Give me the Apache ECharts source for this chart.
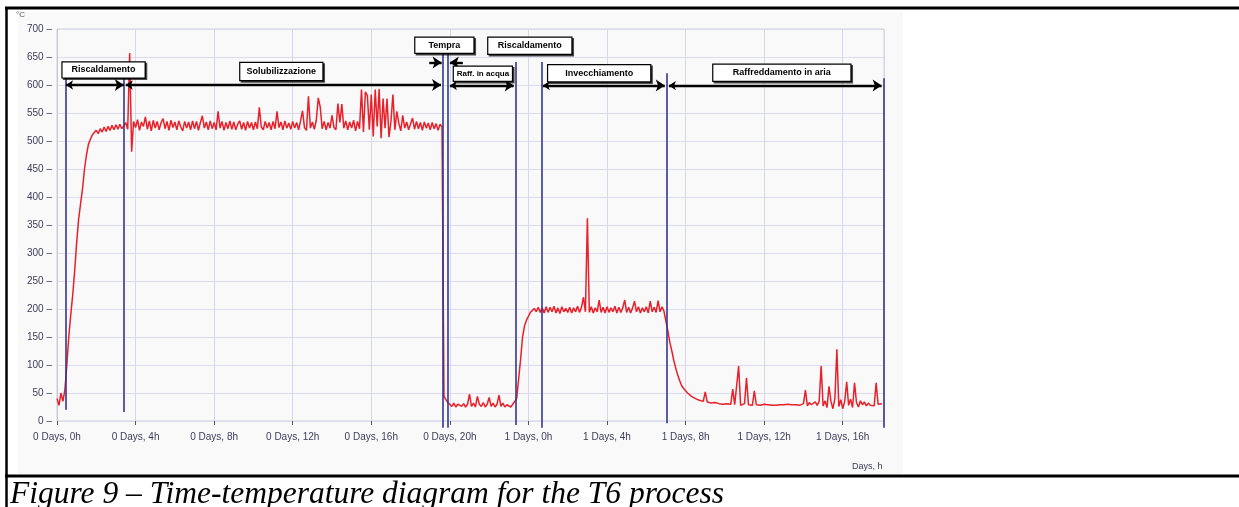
<!DOCTYPE html>
<html>
<head>
<meta charset="utf-8">
<title>Figure 9 - T6</title>
<script src="https://cdn.jsdelivr.net/npm/echarts@6/dist/echarts.min.js"></script>
<style>
    html, body { margin: 0; padding: 0; background: #fff; }
    #chart { width: 1239px; height: 507px; }
</style>
</head>
<body>
<div id="chart"></div>
<script>
// logger sampling step, hours
var STEP = 0.1;

// heating up to solution temperature
var heatStart = 0.0;
var heatTemp = [40, 28, 50, 35, 55, 100, 150, 190, 225, 268,
    318, 360, 388, 415, 450, 475, 494, 503, 511, 514,
    519, 513, 522, 516, 525, 517, 526, 519, 528, 520,
    529, 521, 530, 522, 527];

// solution treatment (solubilizzazione)
var soakStart = 3.5;
var soakTemp = [533, 521, 657, 481, 535,
    524, 538, 519, 534, 526, 543, 521, 536, 518, 537,
    523, 535, 520, 533, 540, 522, 535, 519, 537, 524,
    534, 520, 536, 525, 518, 535, 523, 534, 520, 536,
    522, 535, 519, 533, 545, 523, 534, 520, 536, 522,
    533, 520, 553, 523, 535, 519, 533, 522, 536, 521,
    534, 520, 530, 536, 521, 533, 519, 535, 523, 533,
    520, 534, 522, 560, 525, 520, 535, 523, 533, 520,
    535, 522, 553, 524, 534, 520, 536, 523, 532, 521,
    535, 523, 533, 520, 536, 554, 524, 519, 580, 523,
    534, 521, 537, 577, 561, 522, 535, 520, 533, 523,
    546, 524, 520, 567, 533, 566, 523, 536, 520, 534,
    523, 537, 518, 535, 522, 592, 516, 588, 581, 520,
    583, 508, 592, 526, 593, 505, 576, 523, 576, 507,
    535, 583, 520, 553, 532, 518, 546, 523, 534, 520,
    531, 541, 521, 535, 522, 533, 519, 534, 523, 532,
    520, 533, 522, 531, 519, 530, 525];

// water quench (tempra / raffreddamento in acqua)
var quenchStart = 19.7;
var quenchTemp = [44, 38, 33,
    31, 26, 32, 25, 30, 33, 26, 31, 25, 30,
    48, 26, 32, 25, 44, 30, 26, 33, 25, 30,
    42, 26, 32, 25, 30, 46, 26, 32, 25, 29,
    31, 25, 30, 29];

// second heating and ageing (invecchiamento)
var ageStart = 23.4;
var ageTemp = [40, 75, 110, 150, 170, 180,
    187, 194, 193, 201, 195, 203, 194, 202, 193, 204,
    194, 203, 195, 205, 193, 202, 192, 204, 195, 201,
    194, 203, 193, 202, 195, 205, 194, 203, 221, 195,
    362, 194, 204, 193, 202, 195, 216, 194, 203, 193,
    204, 194, 202, 195, 205, 193, 203, 194, 202, 216,
    194, 203, 193, 202, 214, 195, 204, 193, 202, 195,
    204, 193, 214, 195, 203, 194, 215, 195, 204, 196,
    199];

// air cooling (raffreddamento in aria)
var coolStart = 31.1;
var coolTemp = [160, 140, 125, 108, 94, 82, 72, 63, 58,
    54, 50, 47, 44, 43, 40, 39, 37, 36, 35,
    52, 34, 33, 32, 31, 33, 30, 31, 29, 30,
    29, 31, 28, 30, 57, 29, 30, 98, 28, 30,
    31, 77, 29, 30, 28, 54, 29, 30, 28, 29,
    30, 28, 29, 30, 28, 29, 28, 30, 29, 28,
    29, 28, 30, 28, 29, 28, 29, 30, 28, 29,
    31, 55, 27, 33, 29, 26, 34, 28, 35, 98,
    27, 36, 24, 62, 35, 22, 40, 128, 26, 38,
    22, 35, 70, 28, 39, 24, 68, 33, 25, 36,
    29, 34, 27, 32, 28, 31, 27, 68, 30, 28,
    31];

var tickLabels = ['0 Days, 0h', '0 Days, 4h', '0 Days, 8h', '0 Days, 12h', '0 Days, 16h', '0 Days, 20h',
    '1 Days, 0h', '1 Days, 4h', '1 Days, 8h', '1 Days, 12h', '1 Days, 16h'];

// phase boundaries (blue vertical lines): hour, top and bottom in degC
var phaseHour = [0.44, 3.41, 19.63, 19.9, 23.36, 24.68, 31.04, 42.09];
var phaseTop = [612, 612, 660, 660, 641, 641, 621, 612];
var phaseBottom = [20, 16, -12, -12, -7, -12, -4, -12];

// dimension arrows: from hour, to hour, level, double headed
var arrowFrom = [0.46, 3.5, 18.95, 20.66, 20.0, 24.73, 31.15];
var arrowTo = [3.40, 19.55, 19.58, 20.0, 23.25, 30.94, 41.98];
var arrowTemp = [600, 600, 640, 640, 599, 599, 599];
var arrowBoth = [true, true, false, false, true, true, true];

// phase labels
var phaseNames = ['Riscaldamento', 'Solubilizzazione', 'Tempra', 'Riscaldamento',
    'Raff. in acqua', 'Invecchiamento', 'Raffreddamento in aria'];
var labelHour = [2.37, 11.42, 19.72, 24.07, 21.68, 27.6, 36.9];
var labelTemp = [627, 624, 671, 670, 620, 621, 622];

var boxSize = [[82, 15], [82, 17], [58, 15], [83, 16], [58, 14], [102, 16], [137, 16]];
var boxFont = [9, 9, 9, 9, 8, 9, 9];

function toPoints(start, vals) {
    return vals.map(function (v, i) {
        return [Math.round((start + i * STEP) * 100) / 100, v];
    });
}

var trace = [].concat(
    toPoints(heatStart, heatTemp),
    toPoints(soakStart, soakTemp),
    toPoints(quenchStart, quenchTemp),
    toPoints(ageStart, ageTemp),
    toPoints(coolStart, coolTemp)
);

function arrowLines(both) {
    var out = [];
    arrowFrom.forEach(function (h, i) {
        if (arrowBoth[i] !== both) return;
        out.push({ coords: [[h, arrowTemp[i]], [arrowTo[i], arrowTemp[i]]] });
    });
    return out;
}

var labelColor = '#3d3d5c';
var font = '"Liberation Sans", Arial, sans-serif';

var chart = echarts.init(document.getElementById('chart'));

chart.setOption({
    animation: false,
    backgroundColor: '#fff',
    grid: {
        left: 57,
        top: 29,
        width: 827,
        height: 392,
        show: true,
        borderColor: '#cfcfdc',
        borderWidth: 1
    },
    xAxis: {
        type: 'value',
        min: 0,
        max: 42.1,
        interval: 4,
        offset: 3,
        axisLine: { show: false },
        axisTick: { show: true, length: 4, lineStyle: { color: '#555', width: 1 } },
        axisLabel: {
            margin: 8,
            fontSize: 10,
            fontFamily: font,
            color: labelColor,
            showMaxLabel: false,
            formatter: function (v) {
                if (v % 4 !== 0) return '';
                return tickLabels[v / 4] || '';
            }
        },
        splitLine: { show: true, lineStyle: { color: '#d6d6ef', width: 1 } }
    },
    yAxis: {
        type: 'value',
        min: 0,
        max: 700,
        interval: 50,
        axisLine: { show: true, lineStyle: { color: '#c8c8d0' } },
        axisTick: { show: false },
        axisLabel: {
            margin: 5,
            fontSize: 10,
            fontFamily: font,
            color: labelColor,
            formatter: function (v) { return v + ' \u2013'; }
        },
        splitLine: { show: true, lineStyle: { color: '#dcdcf0', width: 1 } }
    },
    graphic: [
        { type: 'rect', z: -10, silent: true, shape: { x: 18, y: 12, width: 885, height: 462 }, style: { fill: '#f9f9f9' } },
        { type: 'line', silent: true, shape: { x1: 5, y1: 8, x2: 1239, y2: 8 }, style: { stroke: '#000', lineWidth: 3 } },
        { type: 'line', silent: true, shape: { x1: 6.5, y1: 7, x2: 6.5, y2: 507 }, style: { stroke: '#000', lineWidth: 2.5 } },
        { type: 'line', silent: true, shape: { x1: 5, y1: 476, x2: 1239, y2: 476 }, style: { stroke: '#000', lineWidth: 3 } },
        { type: 'text', silent: true, style: { x: 16, y: 15, text: '\u00b0C', font: '8px ' + font, fill: '#555', verticalAlign: 'middle' } },
        { type: 'text', silent: true, style: { x: 852, y: 467, text: 'Days, h', font: '9px ' + font, fill: labelColor, verticalAlign: 'middle' } },
        {
            type: 'text', silent: true,
            style: {
                x: 10, y: 495,
                text: 'Figure 9 \u2013 Time-temperature diagram for the T6 process',
                font: 'italic 31.5px "Liberation Serif", "Times New Roman", serif',
                fill: '#000',
                verticalAlign: 'middle'
            }
        }
    ],
    series: [
        {
            name: 'Temperatura',
            type: 'line',
            data: trace,
            showSymbol: false,
            symbol: 'none',
            z: 2,
            lineStyle: { color: '#e8202a', width: 1.5 },
            itemStyle: { color: '#e8202a' }
        },
        {
            name: 'fasi',
            type: 'lines',
            coordinateSystem: 'cartesian2d',
            clip: false,
            silent: true,
            z: 3,
            symbol: 'none',
            lineStyle: { color: '#35358f', width: 1.6, opacity: 1 },
            data: phaseHour.map(function (h, i) {
                return { coords: [[h, phaseTop[i]], [h, phaseBottom[i]]] };
            })
        },
        {
            name: 'frecce',
            type: 'lines',
            coordinateSystem: 'cartesian2d',
            clip: false,
            silent: true,
            z: 4,
            symbol: ['arrow', 'arrow'],
            symbolSize: [7, 9],
            lineStyle: { color: '#000', width: 2.4, opacity: 1 },
            data: arrowLines(true)
        },
        {
            name: 'frecce singole',
            type: 'lines',
            coordinateSystem: 'cartesian2d',
            clip: false,
            silent: true,
            z: 4,
            symbol: ['none', 'arrow'],
            symbolSize: [7, 9],
            lineStyle: { color: '#000', width: 2.4, opacity: 1 },
            data: arrowLines(false)
        },
        {
            name: 'etichette',
            type: 'line',
            data: [],
            clip: false,
            z: 5,
            markPoint: {
                silent: true,
                data: phaseNames.map(function (name, i) {
                    return {
                        coord: [labelHour[i], labelTemp[i]],
                        symbol: 'circle',
                        symbolSize: 1,
                        itemStyle: { color: 'rgba(0,0,0,0)' },
                        label: {
                            show: true,
                            position: 'inside',
                            formatter: name,
                            color: '#000',
                            fontSize: boxFont[i],
                            fontWeight: 'bold',
                            fontFamily: font,
                            width: boxSize[i][0],
                            height: boxSize[i][1],
                            lineHeight: boxSize[i][1],
                            align: 'center',
                            verticalAlign: 'middle',
                            padding: 0,
                            backgroundColor: '#fff',
                            borderColor: '#000',
                            borderWidth: 1.2,
                            shadowColor: 'rgba(0,0,0,0.7)',
                            shadowOffsetX: 1.5,
                            shadowOffsetY: 1.5,
                            shadowBlur: 0
                        }
                    };
                })
            }
        }
    ]
});
</script>
</body>
</html>
